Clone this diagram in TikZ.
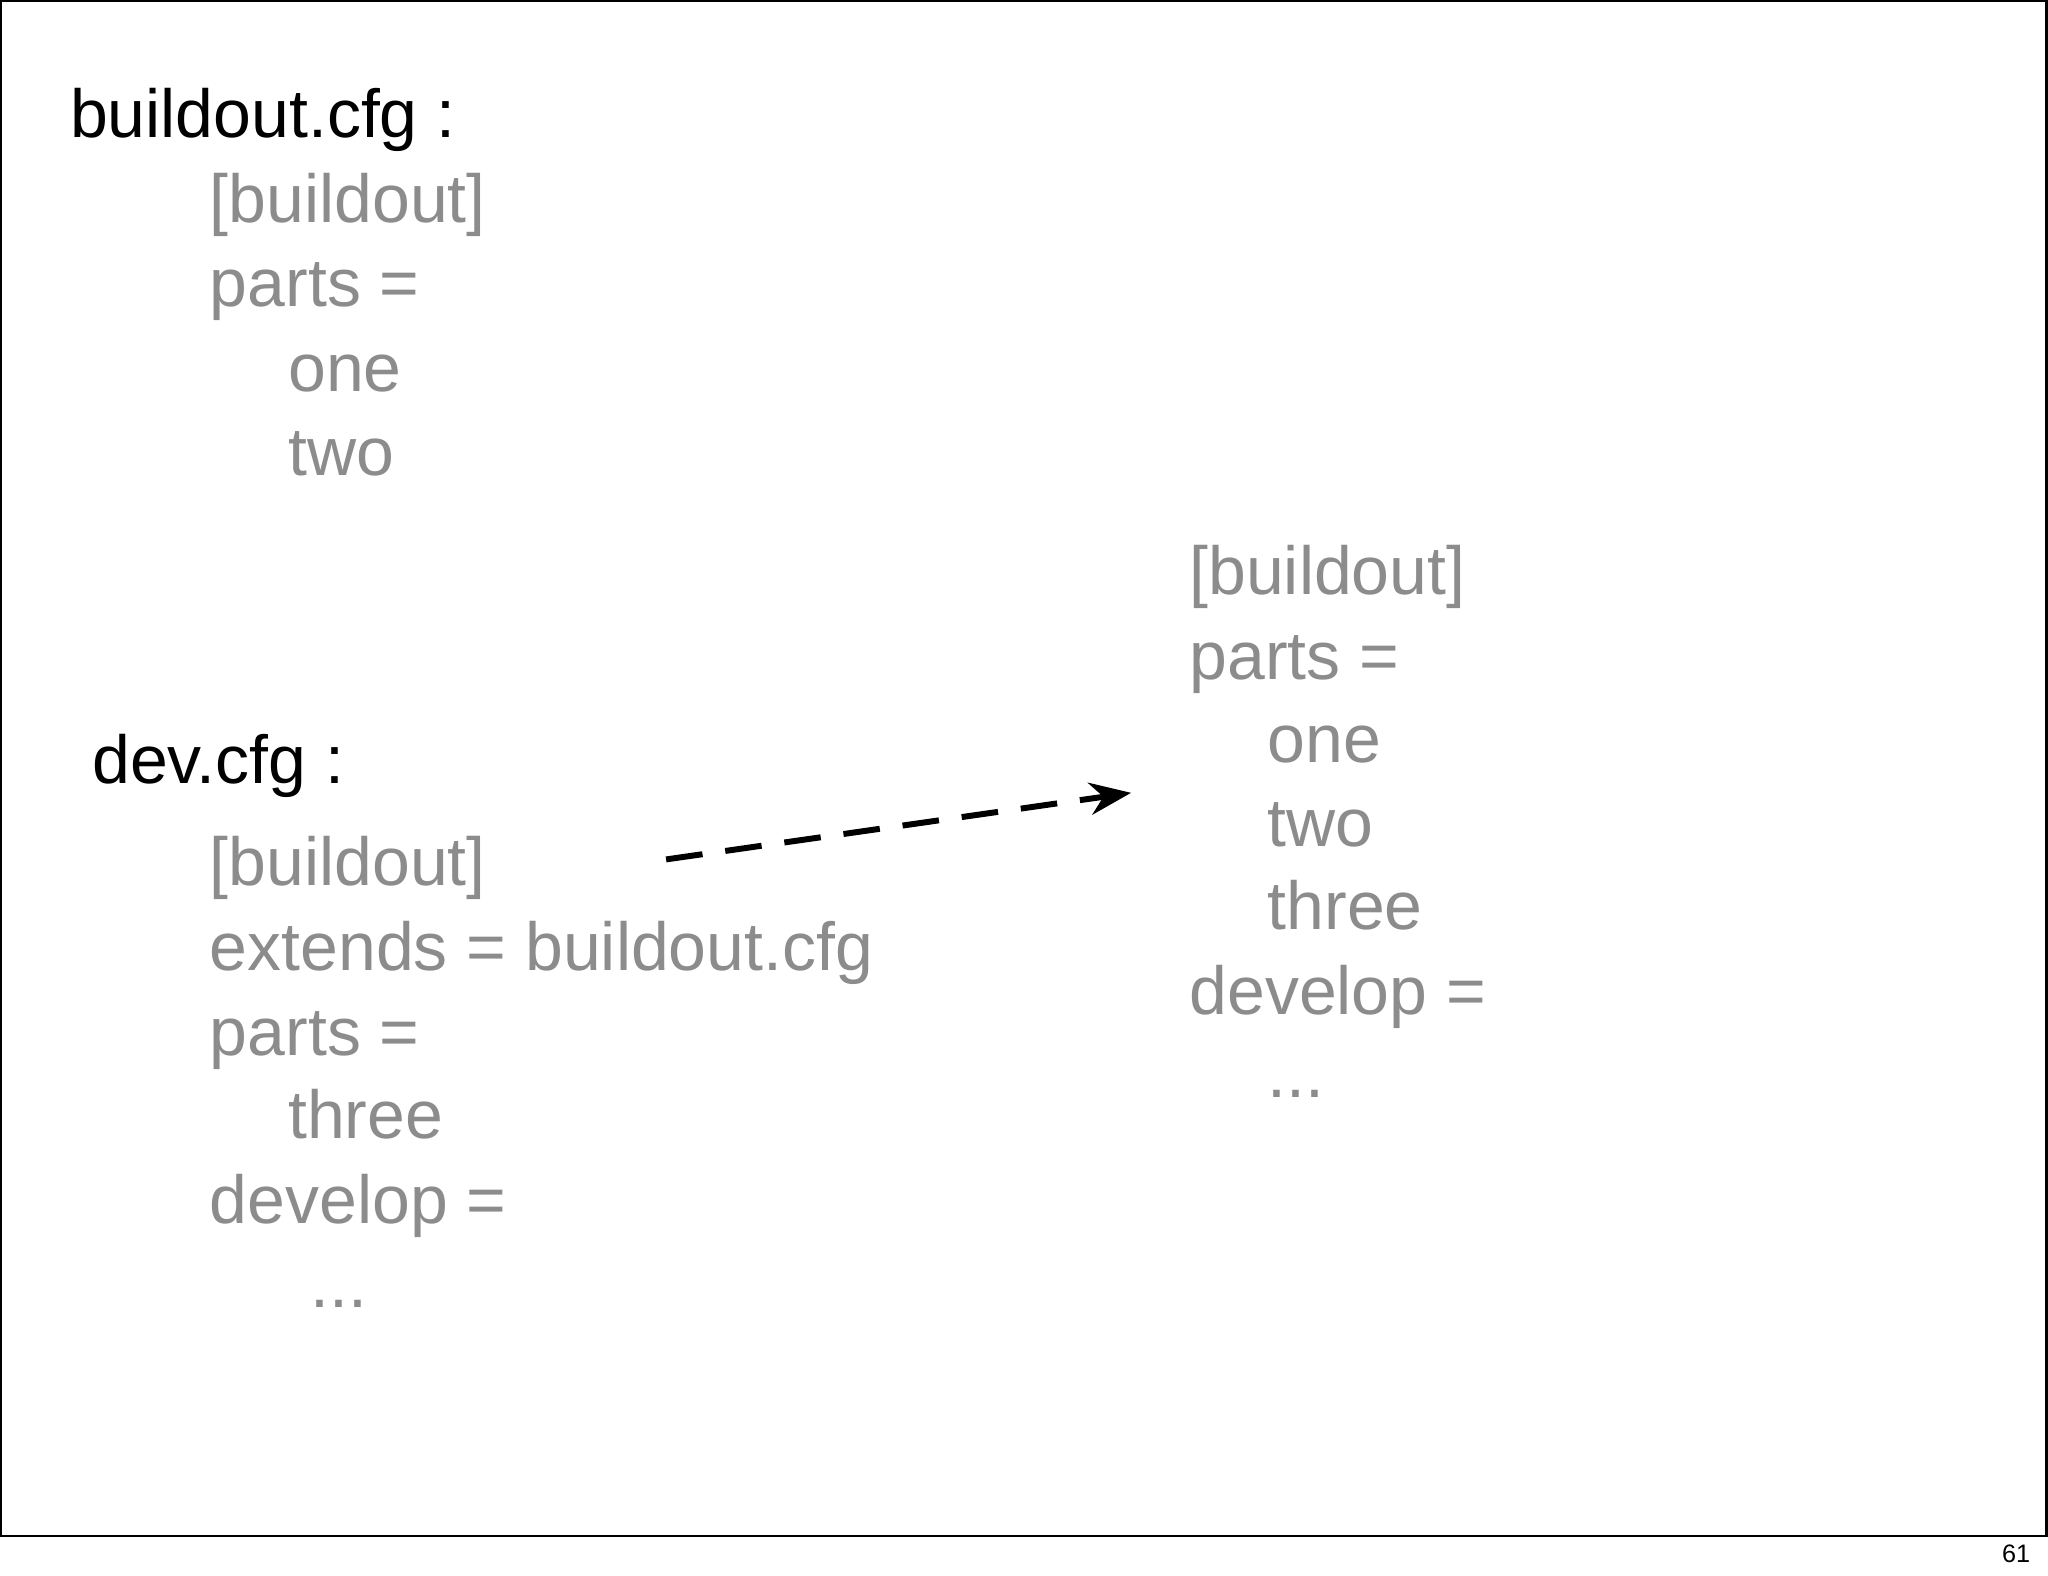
\documentclass[tikz,border=0pt]{standalone}
\usepackage{fontspec}
\setmainfont{Liberation Sans}
\usetikzlibrary{arrows.meta}
\definecolor{cfggray}{RGB}{140,140,140}
\begin{document}
\begin{tikzpicture}[x=0.01cm,y=-0.01cm,
  lbl/.style={anchor=base west,inner sep=0pt,font=\fontsize{14.8pt}{16pt}\selectfont},
  cfg/.style={lbl,text=cfggray}]
\useasboundingbox (0,0) rectangle (1568,1206);
\draw[line width=0.6pt] (0.5,0.5) rectangle (1567,1176);
\node[anchor=base east,inner sep=0pt,font=\fontsize{5.5pt}{6pt}\selectfont] (pg) at (1555,1196) {61};
\node[lbl] (t1) at (53,105) {buildout.cfg :};
\node[cfg] (a1) at (160,170) {[buildout]};
\node[cfg] (a2) at (160,235) {parts =};
\node[cfg] (a3) at (220,300) {one};
\node[cfg] (a4) at (220,364) {two};
\node[lbl] (t2) at (70,600) {dev.cfg :};
\node[cfg] (b1) at (160,678) {[buildout]};
\node[cfg] (b2) at (160,743) {extends = buildout.cfg};
\node[cfg] (b3) at (160,808) {parts =};
\node[cfg] (b4) at (220,872) {three};
\node[cfg] (b5) at (160,937) {develop =};
\node[cfg] (b6) at (237,1001) {...};
\node[cfg] (c1) at (910,455) {[buildout]};
\node[cfg] (c2) at (910,520) {parts =};
\node[cfg] (c3) at (970,584) {one};
\node[cfg] (c4) at (970,648) {two};
\node[cfg] (c5) at (970,712) {three};
\node[cfg] (c6) at (910,777) {develop =};
\node[cfg] (c7) at (970,840) {...};
\coordinate (s) at (510,658);
\coordinate (e) at (866,607);
\draw[line width=1.3pt,dash pattern=on 8pt off 5pt,-{Stealth[length=9pt,width=7pt]}] (s) -- (e);
\end{tikzpicture}
\end{document}
